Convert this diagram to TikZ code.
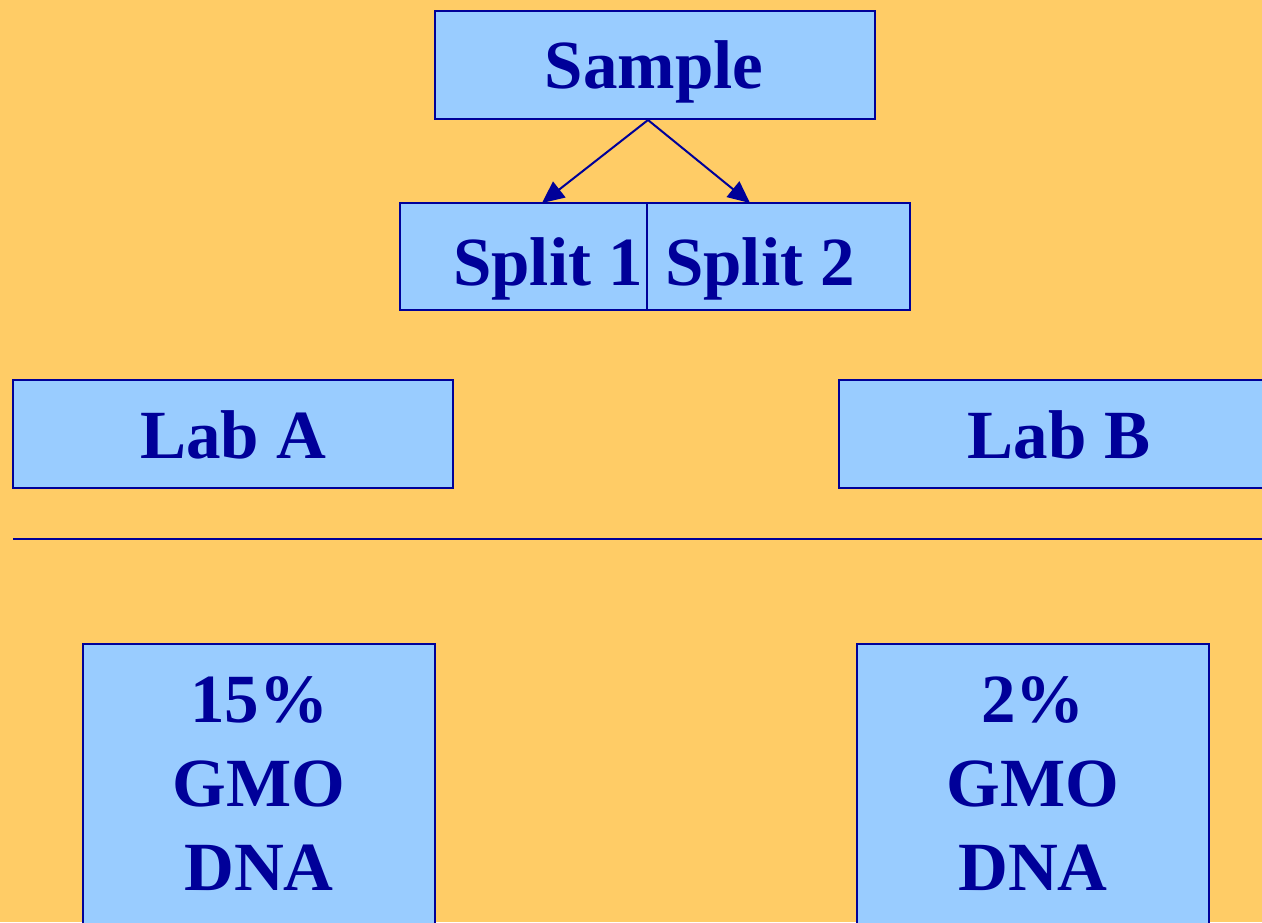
\documentclass[tikz,border=0pt]{standalone}
\usepackage{fontspec}
\setmainfont{Liberation Serif}
\usetikzlibrary{arrows.meta}
\definecolor{bg}{HTML}{FFCC66}
\definecolor{boxfill}{HTML}{99CCFF}
\definecolor{navy}{HTML}{000099}
\begin{document}
\begin{tikzpicture}[x=1pt,y=-1pt,
  box/.style={draw=navy,fill=boxfill,line width=2pt,rectangle,inner sep=0pt},
  lbl/.style={text=navy,font=\fontsize{69}{83}\selectfont\bfseries,anchor=base,inner sep=0pt},
  conn/.style={draw=navy,line width=2pt,-{Triangle[length=22pt,width=20pt]}}]
\useasboundingbox (0,0) rectangle (1262,922);
\clip (0,0) rectangle (1262,922);
\fill[bg] (0,0) rectangle (1262,922);
% boxes
\node[box,minimum width=440pt,minimum height=108pt] (sample) at (655,65) {};
\node[box,minimum width=247pt,minimum height=107pt] (split1) at (523.5,256.5) {};
\node[box,minimum width=263pt,minimum height=107pt] (split2) at (778.5,256.5) {};
\node[box,minimum width=440pt,minimum height=108pt] (labA) at (233,434) {};
\node[box,minimum width=440pt,minimum height=108pt] (labB) at (1059,434) {};
\node[box,minimum width=352pt,minimum height=300pt] (resA) at (259,794) {};
\node[box,minimum width=352pt,minimum height=300pt] (resB) at (1033,794) {};
% texts
\node[lbl] (tsample) at (654,88) {Sample};
\node[lbl] (tsplit1) at (548,285) {Split 1};
\node[lbl] (tsplit2) at (760,285) {Split 2};
\node[lbl] (tlabA) at (233,458) {Lab A};
\node[lbl] (tlabB) at (1059,458) {Lab B};
\node[lbl] (ra1) at (259,722) {15\%};
\node[lbl] (ra2) at (259,806) {GMO};
\node[lbl] (ra3) at (259,890) {DNA};
\node[lbl] (rb1) at (1033,722) {2\%};
\node[lbl] (rb2) at (1033,806) {GMO};
\node[lbl] (rb3) at (1033,890) {DNA};
% connectors
\coordinate (fork) at (sample.south -| split1.east);
\coordinate (t1) at (542,203);
\coordinate (t2) at (750,203);
\draw[conn] (fork) -- (t1);
\draw[conn] (fork) -- (t2);
% separator line
\coordinate (lineL) at (13,539);
\coordinate (lineR) at (1262,539);
\draw[navy,line width=2pt] (lineL) -- (lineR);
\end{tikzpicture}
\end{document}
